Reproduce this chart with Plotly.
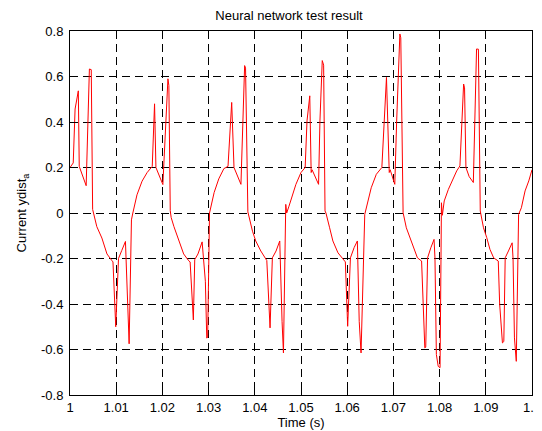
import plotly.graph_objects as go

time_s = [
    1.0000, 1.0007, 1.0011, 1.0018, 1.0020, 1.0035, 1.0042, 1.0046, 1.0049, 1.0051,
    1.0058, 1.0069, 1.0080, 1.0091, 1.0093, 1.0099, 1.0105, 1.0112, 1.0120, 1.0128,
    1.0133, 1.0136, 1.0145, 1.0156, 1.0167, 1.0178, 1.0183, 1.0186, 1.0196, 1.0201,
    1.0212, 1.0214, 1.0217, 1.0219, 1.0225, 1.0235, 1.0246, 1.0257, 1.0260, 1.0267,
    1.0270, 1.0277, 1.0286, 1.0293, 1.0296, 1.0298, 1.0302, 1.0312, 1.0322, 1.0333,
    1.0342, 1.0350, 1.0355, 1.0370, 1.0378, 1.0380, 1.0385, 1.0395, 1.0402,
    1.0413, 1.0426, 1.0433, 1.0438, 1.0446, 1.0454, 1.0459, 1.0462, 1.0467, 1.0469,
    1.0474, 1.0482, 1.0489, 1.0500, 1.0509, 1.0513, 1.0519, 1.0522, 1.0524, 1.0538,
    1.0541, 1.0546, 1.0549, 1.0552, 1.0554, 1.0562, 1.0569, 1.0580, 1.0594, 1.0596,
    1.0601, 1.0607, 1.0615, 1.0622, 1.0626, 1.0630, 1.0638, 1.0645, 1.0652, 1.0663,
    1.0675, 1.0685, 1.0688, 1.0691, 1.0693, 1.0703, 1.0707, 1.0714, 1.0716, 1.0721,
    1.0728, 1.0738, 1.0746, 1.0752, 1.0761, 1.0764, 1.0768, 1.0770, 1.0774, 1.0781,
    1.0788, 1.0790, 1.0793, 1.0797, 1.0801, 1.0803, 1.0804, 1.0806, 1.0810, 1.0819,
    1.0828, 1.0837, 1.0844, 1.0852, 1.0854, 1.0857, 1.0864, 1.0873, 1.0880, 1.0884,
    1.0888, 1.0895, 1.0902, 1.0909, 1.0917, 1.0927, 1.0930, 1.0936, 1.0939, 1.0942,
    1.0949, 1.0957, 1.0959, 1.0962, 1.0966, 1.0971, 1.0977, 1.0985, 1.0993, 1.1000,
]

current_ydist_a = [
    0.200, 0.220, 0.457, 0.537, 0.205, 0.120, 0.633, 0.630, 0.016, 0.000,
    -0.060, -0.110, -0.180, -0.210, -0.215, -0.500, -0.200, -0.165, -0.125, -0.575,
    -0.030, 0.000, 0.080, 0.140, 0.178, 0.205, 0.480, 0.200, 0.155, 0.125,
    0.590, 0.560, 0.010, -0.020, -0.060, -0.120, -0.180, -0.210, -0.215, -0.470,
    -0.205, -0.180, -0.127, -0.300, -0.550, -0.545, 0.000, 0.090, 0.150, 0.195,
    0.205, 0.486, 0.200, 0.126, 0.648, 0.637, 0.005, -0.080, -0.123,
    -0.167, -0.209, -0.505, -0.197, -0.167, -0.123, -0.476, -0.615, 0.038, 0.000,
    0.030, 0.082, 0.126, 0.178, 0.200, 0.405, 0.515, 0.178, 0.190, 0.126,
    0.405, 0.670, 0.650, 0.009, 0.000, -0.065, -0.123, -0.175, -0.211, -0.215,
    -0.498, -0.197, -0.152, -0.123, -0.476, -0.615, -0.006, 0.053, 0.111, 0.170,
    0.200, 0.596, 0.400, 0.178, 0.190, 0.126, 0.400, 0.787, 0.770, 0.001,
    -0.065, -0.123, -0.167, -0.197, -0.211, -0.400, -0.593, -0.590, -0.197, -0.153,
    -0.116, -0.200, -0.622, -0.674, -0.680, -0.200, 0.045, -0.010, 0.053, 0.104,
    0.148, 0.185, 0.207, 0.567, 0.550, 0.200, 0.160, 0.134, 0.721, 0.720,
    0.009, -0.065, -0.108, -0.160, -0.197, -0.211, -0.400, -0.571, -0.565, -0.197,
    -0.167, -0.131, -0.200, -0.549, -0.652, -0.006, 0.023, 0.097, 0.141, 0.190,
]

x_tick_vals = [1.00, 1.01, 1.02, 1.03, 1.04, 1.05, 1.06, 1.07, 1.08, 1.09, 1.10]
x_tick_text = ["1", "1.01", "1.02", "1.03", "1.04", "1.05", "1.06", "1.07", "1.08", "1.09", "1.1"]
y_tick_vals = [-0.8, -0.6, -0.4, -0.2, 0.0, 0.2, 0.4, 0.6, 0.8]
y_tick_text = ["-0.8", "-0.6", "-0.4", "-0.2", "0", "0.2", "0.4", "0.6", "0.8"]

FONT = "Liberation Sans, Arial, sans-serif"
FS = 13

# the page body has an 8px default margin, so the figure is sized to fit the window
FIG_W, FIG_H = 534, 423

fig = go.Figure()
fig.add_trace(go.Scatter(
    x=time_s, y=current_ydist_a, mode="lines",
    line=dict(color="#ff0000", width=1),
    showlegend=False,
))

axis_common = dict(
    showline=True, linecolor="black", linewidth=1, mirror="ticks",
    ticks="inside", ticklen=5, tickcolor="black", tickwidth=1,
    showgrid=True, gridcolor="black", gridwidth=1, griddash="8px,5px",
    zeroline=False, automargin=False,
    tickfont=dict(family=FONT, size=FS, color="black"),
)

fig.update_xaxes(
    range=[1.0, 1.1], tickvals=x_tick_vals, ticktext=x_tick_text,
    title=dict(text="Time (s)", font=dict(family=FONT, size=FS, color="black"), standoff=2),
    **axis_common,
)
fig.update_yaxes(
    range=[-0.8, 0.8], tickvals=y_tick_vals, ticktext=y_tick_text,
    ticklabelstandoff=3,
    title=dict(text="Current ydist<sub>a</sub>", font=dict(family=FONT, size=FS, color="black"), standoff=11),
    **axis_common,
)

fig.update_layout(
    width=FIG_W, height=FIG_H,
    margin=dict(l=62, r=10, t=23, b=36, autoexpand=False),
    paper_bgcolor="white", plot_bgcolor="white",
    title=dict(text="Neural network test result", x=281 / FIG_W, xanchor="center",
               y=1 - 7 / FIG_H, yanchor="middle", yref="container",
               font=dict(family=FONT, size=FS, color="black")),
    font=dict(family=FONT, size=FS, color="black"),
)

fig.write_html("out.html")
